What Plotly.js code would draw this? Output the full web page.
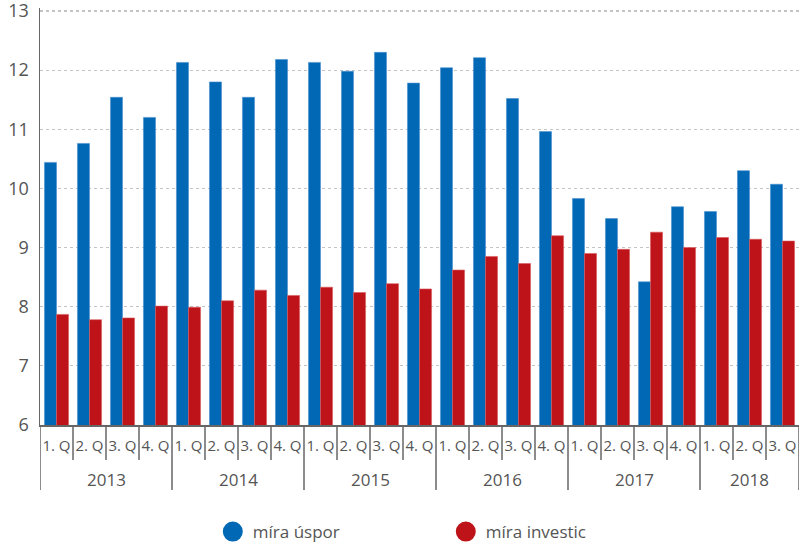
<!DOCTYPE html>
<html>
<head>
<meta charset="utf-8">
<script src="https://cdn.plot.ly/plotly-3.0.1.min.js"></script>
<style>html,body{margin:0;padding:0;background:#fff;}#chart{width:800px;height:544px;}</style>
</head>
<body>
<div id="chart"></div>
<script>
const years = ["2013","2013","2013","2013","2014","2014","2014","2014","2015","2015","2015","2015","2016","2016","2016","2016","2017","2017","2017","2017","2018","2018","2018"];
const quarters = ["1. Q","2. Q","3. Q","4. Q","1. Q","2. Q","3. Q","4. Q","1. Q","2. Q","3. Q","4. Q","1. Q","2. Q","3. Q","4. Q","1. Q","2. Q","3. Q","4. Q","1. Q","2. Q","3. Q"];
const savingsRate = [10.44,10.76,11.54,11.20,12.13,11.80,11.54,12.18,12.13,11.98,12.30,11.78,12.04,12.21,11.52,10.96,9.83,9.49,8.42,9.69,9.61,10.30,10.07];
const investmentRate = [7.87,7.78,7.81,8.01,7.99,8.10,8.28,8.19,8.33,8.24,8.39,8.30,8.62,8.85,8.73,9.20,8.90,8.97,9.26,9.00,9.17,9.14,9.11];
const seriesNames = ["míra úspor","míra investic"];
const yTicks = [6,7,8,9,10,11,12,13];
const blue = "#0068B4", red = "#BE1419";
const axisGray = "#666", textGray = "#555";

// unique category keys from year + quarter
const keys = years.map((y, i) => y + " " + quarters[i]);

const traces = [
  {type:"bar", x:keys, y:savingsRate, name:seriesNames[0], marker:{color:blue, line:{color:"#4a90d0", width:0.6}}, showlegend:false, hoverinfo:"y"},
  {type:"bar", x:keys, y:investmentRate, name:seriesNames[1], marker:{color:red, line:{color:"#d85a5e", width:0.6}}, showlegend:false, hoverinfo:"y"},
  {type:"scatter", mode:"markers", x:[null], y:[null], name:seriesNames[0], marker:{color:blue, size:16, symbol:"circle", line:{color:blue, width:4}}, showlegend:true},
  {type:"scatter", mode:"markers", x:[null], y:[null], name:seriesNames[1], marker:{color:red, size:16, symbol:"circle", line:{color:red, width:4}}, showlegend:true}
];

// separators and year labels derived from the category arrays
const shapes = [];
const annotations = [];
const n = keys.length;
for (let i = 0; i <= n; i++) {
  const isYearEdge = (i === 0 || i === n || years[i] !== years[i - 1]);
  shapes.push({type:"line", xref:"x", yref:"paper", ysizemode:"pixel", yanchor:0,
    x0:i - 0.5, x1:i - 0.5, y0:0, y1:isYearEdge ? -65 : -35,
    line:{color:axisGray, width:1.5}, layer:"above"});
}
const uniqueYears = [...new Set(years)];
uniqueYears.forEach(yr => {
  const first = years.indexOf(yr), last = years.lastIndexOf(yr);
  annotations.push({xref:"x", yref:"paper", x:(first + last) / 2, y:0, yanchor:"top", yshift:-41,
    text:yr, showarrow:false, font:{size:17, color:textGray}});
});

const layout = {
  width:800, height:544,
  margin:{l:40, r:1, t:8, b:119},
  paper_bgcolor:"#fff", plot_bgcolor:"#fff",
  font:{family:"Open Sans, sans-serif", color:textGray},
  barmode:"group", bargap:0.27, bargroupgap:0,
  xaxis:{
    type:"category", tickvals:keys, ticktext:quarters,
    showline:true, linecolor:axisGray, linewidth:1.5,
    ticks:"", tickangle:0, tickfont:{size:15, color:textGray}, ticklabelstandoff:6,
    showgrid:false, zeroline:false, range:[-0.5, n - 0.5]
  },
  yaxis:{
    range:[6,13.05], tickvals:yTicks,
    showline:true, linecolor:axisGray, linewidth:1.5,
    showgrid:true, gridcolor:"#c4c4c4", gridwidth:1.2, griddash:"3px,3px",
    zeroline:false, ticks:"", tickfont:{size:18, color:textGray}, ticklabelstandoff:6,
    ticklabeloverflow:"allow"
  },
  shapes:shapes,
  annotations:annotations,
  legend:{orientation:"h", xref:"container", x:0.266, xanchor:"left", yref:"container", y:0.022, yanchor:"middle",
    font:{size:17, color:textGray}, entrywidth:188, entrywidthmode:"pixels", itemsizing:"trace"},
  showlegend:true
};
Plotly.newPlot("chart", traces, layout, {displayModeBar:false, staticPlot:true});
</script>
</body>
</html>
